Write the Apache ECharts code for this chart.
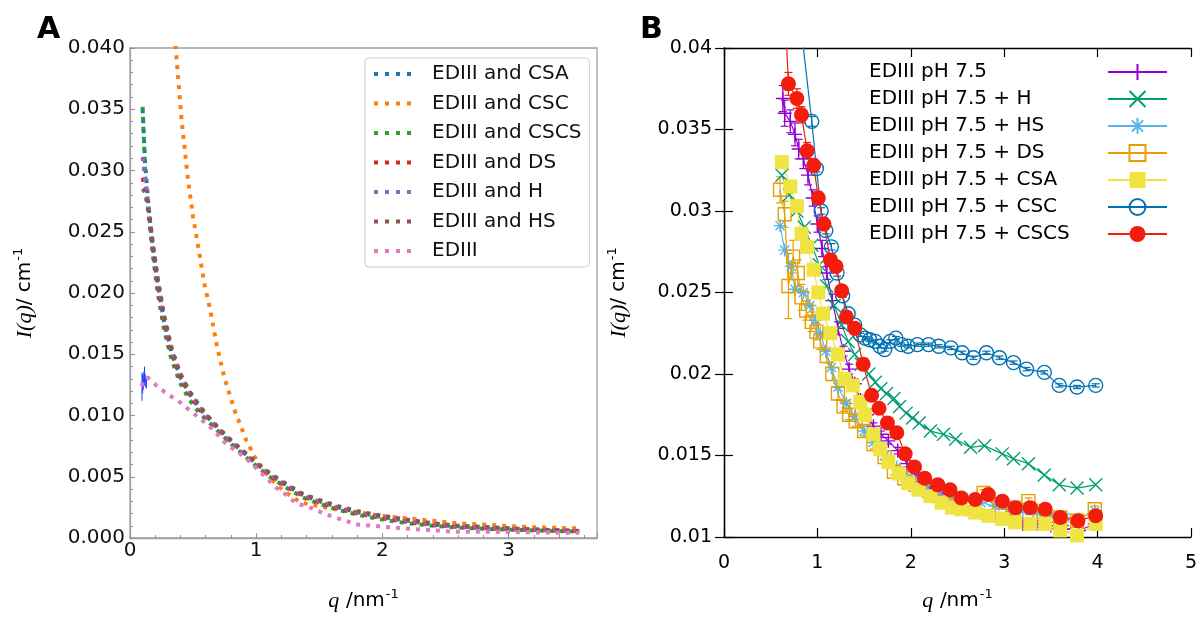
<!DOCTYPE html>
<html>
<head>
<meta charset="utf-8">
<script src="https://cdn.jsdelivr.net/npm/echarts@6.0.0/dist/echarts.min.js"></script>
<style>
  html, body { margin: 0; padding: 0; background: #fff; }
  #chart { width: 1200px; height: 617px; }
</style>
</head>
<body>
<div id="chart"></div>
<script>
// ---- panel A: q grid shared by five of the curves
const qA = [0.10, 0.12, 0.15, 0.18, 0.22, 0.27, 0.33, 0.40, 0.47, 0.55, 0.63, 0.72, 0.82, 0.92, 1.02, 1.12, 1.24, 1.37, 1.50, 1.65, 1.80, 2.00, 2.20, 2.40, 2.60, 2.80, 3.00, 3.20, 3.40, 3.56]
const iCSA = [0.0350, 0.0305, 0.0268, 0.0238, 0.0207, 0.0177, 0.0151, 0.0131, 0.0118, 0.0106, 0.0097, 0.0087, 0.0077, 0.0068, 0.0059, 0.0051, 0.0043, 0.0035, 0.0030, 0.0025, 0.0021, 0.0017, 0.0014, 0.0011, 0.00095, 0.00085, 0.00075, 0.00068, 0.00062, 0.00056]
const iCSCS = [0.0352, 0.0298, 0.0262, 0.0232, 0.0200, 0.0170, 0.0145, 0.0126, 0.0113, 0.0102, 0.0094, 0.0085, 0.0075, 0.0066, 0.0057, 0.0049, 0.0041, 0.0033, 0.0028, 0.0023, 0.0019, 0.0015, 0.0012, 0.0010, 0.00085, 0.00075, 0.00068, 0.00062, 0.00057, 0.00052]
const iDS = [0.0294, 0.0285, 0.0263, 0.0235, 0.0205, 0.0175, 0.0150, 0.0130, 0.0117, 0.0105, 0.0096, 0.0086, 0.0076, 0.0067, 0.0058, 0.0050, 0.0042, 0.0034, 0.0029, 0.0024, 0.0020, 0.0016, 0.0013, 0.00105, 0.0009, 0.0008, 0.0007, 0.00065, 0.0006, 0.00055]
const iH = [0.0311, 0.0292, 0.0268, 0.0240, 0.0210, 0.0180, 0.0153, 0.0133, 0.0119, 0.0107, 0.0097, 0.0087, 0.0077, 0.0068, 0.0059, 0.0051, 0.0043, 0.0035, 0.0030, 0.0025, 0.0021, 0.0017, 0.0014, 0.0011, 0.00095, 0.00085, 0.00075, 0.00068, 0.00062, 0.00056]
const iHS = [0.0285, 0.0282, 0.0266, 0.0241, 0.0212, 0.0182, 0.0155, 0.0134, 0.0120, 0.0108, 0.0098, 0.0088, 0.0078, 0.0069, 0.0060, 0.0052, 0.0044, 0.0036, 0.0031, 0.0026, 0.0022, 0.0018, 0.0015, 0.0012, 0.0010, 0.0009, 0.0008, 0.0007, 0.00064, 0.00058]
const qCSC = [0.30, 0.365, 0.41, 0.46, 0.50, 0.54, 0.59, 0.63, 0.69, 0.75, 0.83, 0.92, 1.00, 1.10, 1.21, 1.35, 1.50, 1.65, 1.80, 2.00, 2.20, 2.40, 2.60, 2.80, 3.00, 3.20, 3.40, 3.56]
const iCSC = [0.0500, 0.0396, 0.0340, 0.0292, 0.0262, 0.0238, 0.0207, 0.0189, 0.0156, 0.0130, 0.0104, 0.0080, 0.0064, 0.0050, 0.0039, 0.0029, 0.0026, 0.0023, 0.0021, 0.0018, 0.0016, 0.0014, 0.0012, 0.0011, 0.00097, 0.00088, 0.00082, 0.00078]
const qE = [0.09, 0.11, 0.14, 0.18, 0.24, 0.30, 0.37, 0.44, 0.50, 0.56, 0.62, 0.68, 0.74, 0.80, 0.87, 0.94, 1.00, 1.08, 1.16, 1.24, 1.32, 1.40, 1.56, 1.80, 2.15, 2.55, 2.95, 3.25, 3.56]
const iE = [0.0124, 0.0129, 0.0131, 0.0127, 0.0122, 0.0117, 0.0113, 0.0107, 0.0102, 0.0097, 0.0092, 0.0086, 0.0079, 0.0074, 0.0069, 0.0063, 0.0057, 0.0049, 0.0041, 0.0035, 0.0028, 0.0026, 0.0019, 0.0011, 0.0008, 0.00052, 0.0005, 0.00045, 0.00042]
// thin blue error whiskers near the lowest q of panel A
const qWhisk = [0.095, 0.100, 0.105, 0.110, 0.115, 0.120, 0.125, 0.130]
const loWhisk = [0.0112, 0.0118, 0.0121, 0.0124, 0.0125, 0.0124, 0.0123, 0.0122]
const hiWhisk = [0.0135, 0.0134, 0.0133, 0.0136, 0.0140, 0.0134, 0.0131, 0.0130]

// ---- panel B
const qP = [0.63, 0.65, 0.71, 0.76, 0.80, 0.85, 0.90, 0.95, 1.00, 1.05, 1.10, 1.16, 1.22, 1.28, 1.34, 1.40, 1.46, 1.53, 1.60, 1.68, 1.76, 1.86, 1.96, 2.08, 2.21, 2.34, 2.47, 2.60, 2.75, 2.90, 3.05, 3.20, 3.35, 3.50, 3.65, 3.80, 3.97]
const iP = [0.0369, 0.0360, 0.0355, 0.0347, 0.0338, 0.0332, 0.0322, 0.0308, 0.0292, 0.0277, 0.0262, 0.0245, 0.0228, 0.0214, 0.0203, 0.0194, 0.0184, 0.0175, 0.0168, 0.0163, 0.0159, 0.0153, 0.0145, 0.0136, 0.0129, 0.0124, 0.0120, 0.0117, 0.0115, 0.0113, 0.0111, 0.0108, 0.0108, 0.0107, 0.0105, 0.0104, 0.0108]
const eP = [0.0008, 0.0008, 0.0007, 0.0007, 0.0006, 0.0006, 0.0006, 0.0005, 0.0005, 0.0005, 0.0004, 0.0004, 0.0004, 0.0003, 0.0003, 0.0003, 0.0003, 0.0002, 0.0002, 0.0002, 0.0002, 0.0002, 0.0002, 0.0002, 0.0002, 0.0002, 0.0002, 0.0002, 0.0002, 0.0002, 0.0002, 0.0002, 0.0002, 0.0002, 0.0002, 0.0002, 0.0002]
const qHb = [0.62, 0.70, 0.78, 0.86, 0.94, 1.02, 1.10, 1.18, 1.26, 1.33, 1.40, 1.47, 1.55, 1.62, 1.68, 1.74, 1.82, 1.88, 1.95, 2.02, 2.09, 2.21, 2.35, 2.48, 2.64, 2.79, 2.98, 3.10, 3.26, 3.43, 3.59, 3.78, 3.98]
const iHb = [0.0322, 0.0310, 0.0300, 0.0290, 0.0279, 0.0267, 0.0254, 0.0242, 0.0230, 0.0220, 0.0212, 0.0206, 0.0200, 0.0195, 0.0191, 0.0188, 0.0185, 0.0180, 0.0176, 0.0173, 0.0170, 0.0165, 0.0163, 0.0160, 0.0155, 0.0156, 0.0151, 0.0148, 0.0145, 0.0138, 0.0132, 0.0130, 0.0132]
const qHSb = [0.60, 0.65, 0.72, 0.76, 0.85, 0.92, 0.98, 1.03, 1.09, 1.15, 1.22, 1.31, 1.40, 1.50, 1.60, 1.72, 1.85, 2.00, 2.15, 2.30, 2.45, 2.60, 2.75, 2.90, 3.05, 3.20, 3.35, 3.50, 3.65, 3.80, 3.97]
const iHSb = [0.0291, 0.0276, 0.0266, 0.0252, 0.0250, 0.0242, 0.0233, 0.0225, 0.0214, 0.0204, 0.0192, 0.0182, 0.0174, 0.0165, 0.0158, 0.0150, 0.0143, 0.0137, 0.0132, 0.0128, 0.0125, 0.0123, 0.0121, 0.0119, 0.0117, 0.0116, 0.0115, 0.0113, 0.0112, 0.0111, 0.0116]
const qDSb = [0.60, 0.65, 0.69, 0.74, 0.79, 0.83, 0.88, 0.94, 0.99, 1.03, 1.10, 1.16, 1.22, 1.28, 1.34, 1.41, 1.50, 1.60, 1.72, 1.82, 1.93, 2.05, 2.20, 2.35, 2.50, 2.65, 2.78, 2.95, 3.10, 3.26, 3.42, 3.60, 3.78, 3.97]
const iDSb = [0.0313, 0.0298, 0.0254, 0.0272, 0.0262, 0.0247, 0.0239, 0.0232, 0.0226, 0.0220, 0.0211, 0.0200, 0.0188, 0.0180, 0.0175, 0.0171, 0.0165, 0.0157, 0.0149, 0.0140, 0.0136, 0.0132, 0.0128, 0.0125, 0.0123, 0.0121, 0.0127, 0.0119, 0.0118, 0.0122, 0.0116, 0.0112, 0.0110, 0.0117]
const eDSb = [0.0008, 0.0008, 0.0020, 0.0010, 0.0008, 0.0008, 0.0006, 0.0006, 0.0005, 0.0005, 0.0004, 0.0004, 0.0004, 0.0003, 0.0003, 0.0003, 0.0003, 0.0003, 0.0002, 0.0002, 0.0002, 0.0002, 0.0002, 0.0002, 0.0002, 0.0002, 0.0002, 0.0002, 0.0002, 0.0002, 0.0002, 0.0002, 0.0002, 0.0002]
const qCSAb = [0.62, 0.71, 0.78, 0.83, 0.89, 0.96, 1.01, 1.06, 1.14, 1.22, 1.29, 1.38, 1.46, 1.51, 1.60, 1.67, 1.76, 1.87, 1.97, 2.08, 2.21, 2.33, 2.44, 2.54, 2.69, 2.83, 2.98, 3.12, 3.28, 3.44, 3.60, 3.78, 3.98]
const iCSAb = [0.0330, 0.0315, 0.0303, 0.0286, 0.0278, 0.0264, 0.0250, 0.0237, 0.0225, 0.0212, 0.0197, 0.0193, 0.0183, 0.0175, 0.0163, 0.0154, 0.0146, 0.0139, 0.0133, 0.0129, 0.0125, 0.0121, 0.0118, 0.0117, 0.0115, 0.0113, 0.0111, 0.0109, 0.0108, 0.0108, 0.0104, 0.0101, 0.0108]
const qCSCb = [0.80, 0.94, 0.99, 1.04, 1.09, 1.15, 1.21, 1.27, 1.33, 1.40, 1.46, 1.51, 1.56, 1.62, 1.67, 1.72, 1.78, 1.84, 1.90, 1.97, 2.07, 2.19, 2.30, 2.43, 2.55, 2.67, 2.81, 2.95, 3.10, 3.24, 3.43, 3.59, 3.78, 3.98]
const iCSCb = [0.0425, 0.0355, 0.0326, 0.0300, 0.0288, 0.0278, 0.0262, 0.0248, 0.0237, 0.0230, 0.0224, 0.0222, 0.0221, 0.0220, 0.0217, 0.0215, 0.0220, 0.0222, 0.0218, 0.0217, 0.0218, 0.0218, 0.0217, 0.0216, 0.0213, 0.0210, 0.0213, 0.0210, 0.0207, 0.0203, 0.0201, 0.0193, 0.0192, 0.0193]
const eCSCb = [0.0003, 0.0003, 0.0002, 0.0002, 0.0002, 0.0002, 0.0002, 0.0001, 0.0001, 0.0001, 0.0001, 0.0001, 0.0001, 0.0001, 0.0001, 0.0001, 0.0001, 0.0001, 0.0001, 0.0001, 0.0001, 0.0001, 0.0001, 0.0001, 0.0001, 0.0001, 0.0001, 0.0001, 0.0001, 0.0001, 0.0001, 0.0001, 0.0001, 0.0001]
const qCSCSb = [0.62, 0.69, 0.78, 0.83, 0.89, 0.96, 1.01, 1.07, 1.14, 1.20, 1.26, 1.31, 1.40, 1.49, 1.58, 1.66, 1.75, 1.85, 1.94, 2.04, 2.15, 2.29, 2.42, 2.54, 2.69, 2.83, 2.98, 3.12, 3.28, 3.44, 3.60, 3.79, 3.98]
const iCSCSb = [0.0463, 0.0378, 0.0369, 0.0359, 0.0337, 0.0328, 0.0308, 0.0292, 0.0270, 0.0266, 0.0251, 0.0235, 0.0228, 0.0206, 0.0187, 0.0179, 0.0170, 0.0164, 0.0151, 0.0143, 0.0136, 0.0132, 0.0129, 0.0124, 0.0123, 0.0126, 0.0122, 0.0118, 0.0118, 0.0117, 0.0112, 0.0110, 0.0113]
const eCSCSb = [0.0010, 0.0007, 0.0006, 0.0005, 0.0005, 0.0004, 0.0004, 0.0004, 0.0003, 0.0003, 0.0003, 0.0003, 0.0002, 0.0002, 0.0002, 0.0002, 0.0002, 0.0002, 0.0002, 0.0002, 0.0002, 0.0002, 0.0002, 0.0002, 0.0002, 0.0002, 0.0002, 0.0002, 0.0002, 0.0002, 0.0002, 0.0002, 0.0002]

const ticksA = { x: [0, 3.7], y: [0, 0.04] }
const ticksB = { x: [0, 5], y: [0.01, 0.04] }

const FONT = "DejaVu Sans"
const zip = (q, v) => q.map((x, k) => [x, v[k]])

// dotted matplotlib-like line for panel A
const dottedA = (name, q, v, color) => ({
  name: name,
  type: "line",
  xAxisIndex: 0,
  yAxisIndex: 0,
  data: zip(q, v),
  symbol: "none",
  lineStyle: { color: color, width: 4, type: [4, 6], cap: "butt" },
  itemStyle: { color: color },
  silent: true
})

// gnuplot symbols
const PLUS = "path://M0,10L20,10M10,0L10,20"
const CROSS = "path://M0,0L20,20M20,0L0,20"
const STAR = "path://M0,10L20,10M10,0L10,20M3,3L17,17M17,3L3,17"

const lineB = (name, q, v, color, symbol, size, filled) => ({
  name: name,
  type: "line",
  xAxisIndex: 1,
  yAxisIndex: 1,
  data: zip(q, v),
  symbol: symbol,
  symbolSize: size,
  showAllSymbol: true,
  lineStyle: { color: color, width: 1.2 },
  itemStyle: filled
    ? { color: color, borderWidth: 0 }
    : { color: "rgba(0,0,0,0)", borderColor: color, borderWidth: 1.4 },
  silent: true
})

const errBars = (q, lo, hi, color, xi, yi, w, lw) => ({
  type: "custom",
  xAxisIndex: xi,
  yAxisIndex: yi,
  silent: true,
  clip: true,
  data: q.map((x, k) => [x, lo[k], hi[k]]),
  renderItem: function (params, api) {
    const a = api.coord([api.value(0), api.value(1)])
    const b = api.coord([api.value(0), api.value(2)])
    const st = { stroke: color, lineWidth: lw }
    const kids = [{ type: "line", shape: { x1: a[0], y1: a[1], x2: b[0], y2: b[1] }, style: st }]
    if (w > 0) {
      kids.push({ type: "line", shape: { x1: a[0] - w, y1: a[1], x2: a[0] + w, y2: a[1] }, style: st })
      kids.push({ type: "line", shape: { x1: b[0] - w, y1: b[1], x2: b[0] + w, y2: b[1] }, style: st })
    }
    return { type: "group", children: kids }
  }
})
const errB = (q, v, e, color) =>
  errBars(q, v.map((y, k) => y - e[k]), v.map((y, k) => y + e[k]), color, 1, 1, 4, 1.2)

const richName = () => ({
  fontSize: 21,
  color: "#000",
  fontFamily: FONT,
  rich: {
    i: { fontSize: 22, fontStyle: "italic", fontFamily: "Liberation Serif", color: "#000", lineHeight: 26 },
    n: { fontSize: 20, fontFamily: FONT, color: "#000", lineHeight: 26 },
    s: { fontSize: 13, fontFamily: FONT, color: "#000", lineHeight: 26, verticalAlign: "top", padding: [0, 0, 10, 1] }
  }
})

const chart = echarts.init(document.getElementById("chart"))

const grayLine = { color: "#a0a0a0", width: 1.3 }
const option = {
  animation: false,
  backgroundColor: "#fff",
  title: [
    { text: "A", left: 32, top: 10, textStyle: { fontSize: 30, fontWeight: "bold", fontFamily: FONT, color: "#000" } },
    { text: "B", left: 635, top: 10, textStyle: { fontSize: 30, fontWeight: "bold", fontFamily: FONT, color: "#000" } }
  ],
  grid: [
    { left: 130, top: 48, width: 467, height: 490, show: true, borderColor: "#a0a0a0", borderWidth: 1.3 },
    { left: 724, top: 48, width: 467, height: 489 }
  ],
  legend: [
    {
      orient: "vertical",
      left: 365,
      top: 58,
      padding: [6, 8, 6, 7],
      itemWidth: 37,
      itemHeight: 10,
      itemGap: 9.5,
      selectedMode: false,
      backgroundColor: "rgba(255,255,255,0.85)",
      borderColor: "#cccccc",
      borderWidth: 1,
      borderRadius: 4,
      itemStyle: { color: "rgba(0,0,0,0)", borderWidth: 0, opacity: 0 },
      lineStyle: { width: 4, type: [4, 7], cap: "butt" },
      textStyle: { fontSize: 20, lineHeight: 20, fontFamily: FONT, color: "#111", padding: [0, 0, 0, 16] },
      data: ["EDIII and CSA", "EDIII and CSC", "EDIII and CSCS", "EDIII and DS", "EDIII and H", "EDIII and HS", "EDIII"]
    },
    {
      orient: "vertical",
      left: 869,
      top: 62,
      padding: 0,
      align: "right",
      itemWidth: 59,
      itemHeight: 20,
      itemGap: 7,
      selectedMode: false,
      formatter: (name) => "{t|" + name + "}",
      textStyle: {
        fontSize: 20, lineHeight: 20, fontFamily: FONT, color: "#000",
        rich: { t: { width: 234, align: "left", fontSize: 20, fontFamily: FONT, color: "#000" } }
      },
      data: ["EDIII pH 7.5", "EDIII pH 7.5 + H", "EDIII pH 7.5 + HS", "EDIII pH 7.5 + DS", "EDIII pH 7.5 + CSA", "EDIII pH 7.5 + CSC", "EDIII pH 7.5 + CSCS"]
    }
  ],
  xAxis: [
    {
      gridIndex: 0,
      type: "value",
      min: ticksA.x[0],
      max: ticksA.x[1],
      interval: 1,
      axisLine: { lineStyle: grayLine },
      axisTick: { inside: true, length: 5, lineStyle: { color: "#909090" } },
      minorTick: { show: true, splitNumber: 5, length: 3, lineStyle: { color: "#909090" } },
      splitLine: { show: false },
      axisLabel: {
        color: "#111", fontSize: 20, fontFamily: FONT, margin: 3, showMaxLabel: false,
        formatter: (v) => (Number.isInteger(v) ? String(v) : "")
      },
      name: "{i|q} {n|/nm}{s|-1}",
      nameLocation: "middle",
      nameGap: 50,
      nameTextStyle: richName()
    },
    {
      gridIndex: 1,
      type: "value",
      min: ticksB.x[0],
      max: ticksB.x[1],
      interval: 1,
      axisLine: { lineStyle: { color: "#000", width: 1.3 } },
      axisTick: { inside: true, length: 9, lineStyle: { color: "#000", width: 1.2 } },
      splitLine: { show: false },
      axisLabel: { color: "#000", fontSize: 19, fontFamily: FONT, margin: 17 },
      name: "{i|q} {n|/nm}{s|-1}",
      nameLocation: "middle",
      nameGap: 51,
      nameTextStyle: richName()
    },
    {
      gridIndex: 1,
      type: "value",
      position: "top",
      min: ticksB.x[0],
      max: ticksB.x[1],
      interval: 1,
      axisLine: { lineStyle: { color: "#000", width: 1.3 } },
      axisTick: { inside: true, length: 9, lineStyle: { color: "#000", width: 1.2 } },
      splitLine: { show: false },
      axisLabel: { show: false }
    }
  ],
  yAxis: [
    {
      gridIndex: 0,
      type: "value",
      min: ticksA.y[0],
      max: ticksA.y[1],
      interval: 0.005,
      axisLine: { show: true, lineStyle: grayLine },
      axisTick: { show: true, inside: true, length: 5, lineStyle: { color: "#909090" } },
      minorTick: { show: true, splitNumber: 5, length: 3, lineStyle: { color: "#909090" } },
      splitLine: { show: false },
      axisLabel: { color: "#111", fontSize: 20, fontFamily: FONT, margin: 5, formatter: (v) => v.toFixed(3) },
      name: "{i|I(q)}{n|/ cm}{s|-1}",
      nameLocation: "middle",
      nameGap: 92,
      nameTextStyle: richName()
    },
    {
      gridIndex: 1,
      type: "value",
      min: ticksB.y[0],
      max: ticksB.y[1],
      interval: 0.005,
      axisLine: { show: true, lineStyle: { color: "#000", width: 1.3 } },
      axisTick: { show: true, inside: true, length: 9, lineStyle: { color: "#000", width: 1.2 } },
      splitLine: { show: false },
      axisLabel: { color: "#000", fontSize: 19, fontFamily: FONT, margin: 12, formatter: (v) => String(parseFloat(v.toFixed(3))) },
      name: "{i|I(q)}{n|/ cm}{s|-1}",
      nameLocation: "middle",
      nameGap: 92,
      nameTextStyle: richName()
    },
    {
      gridIndex: 1,
      type: "value",
      position: "right",
      min: ticksB.y[0],
      max: ticksB.y[1],
      interval: 0.005,
      axisLine: { show: true, lineStyle: { color: "#000", width: 1.3 } },
      axisTick: { show: true, inside: true, length: 9, lineStyle: { color: "#000", width: 1.2 } },
      splitLine: { show: false },
      axisLabel: { show: false }
    }
  ],
  series: [
    dottedA("EDIII and CSA", qA, iCSA, "#1f77b4"),
    dottedA("EDIII and CSC", qCSC, iCSC, "#ff7f0e"),
    dottedA("EDIII and CSCS", qA, iCSCS, "#2ca02c"),
    dottedA("EDIII and DS", qA, iDS, "#d62728"),
    dottedA("EDIII and H", qA, iH, "#9467bd"),
    dottedA("EDIII and HS", qA, iHS, "#8c564b"),
    dottedA("EDIII", qE, iE, "#e377c2"),
    errBars(qWhisk, loWhisk, hiWhisk, "#1f3fff", 0, 0, 0, 1),

    errB(qP, iP, eP, "#9400d3"),
    lineB("EDIII pH 7.5", qP, iP, "#9400d3", PLUS, 14, false),
    lineB("EDIII pH 7.5 + H", qHb, iHb, "#009e73", CROSS, 13, false),
    lineB("EDIII pH 7.5 + HS", qHSb, iHSb, "#56b4e9", STAR, 13, false),
    errB(qDSb, iDSb, eDSb, "#e69f00"),
    lineB("EDIII pH 7.5 + DS", qDSb, iDSb, "#e69f00", "rect", 13, false),
    lineB("EDIII pH 7.5 + CSA", qCSAb, iCSAb, "#f0e442", "rect", 14, true),
    errB(qCSCb, iCSCb, eCSCb, "#0072b2"),
    lineB("EDIII pH 7.5 + CSC", qCSCb, iCSCb, "#0072b2", "circle", 14, false),
    errB(qCSCSb, iCSCSb, eCSCSb, "#f21d0c"),
    lineB("EDIII pH 7.5 + CSCS", qCSCSb, iCSCSb, "#f21d0c", "circle", 15, true)
  ]
}

chart.setOption(option)
</script>
</body>
</html>
